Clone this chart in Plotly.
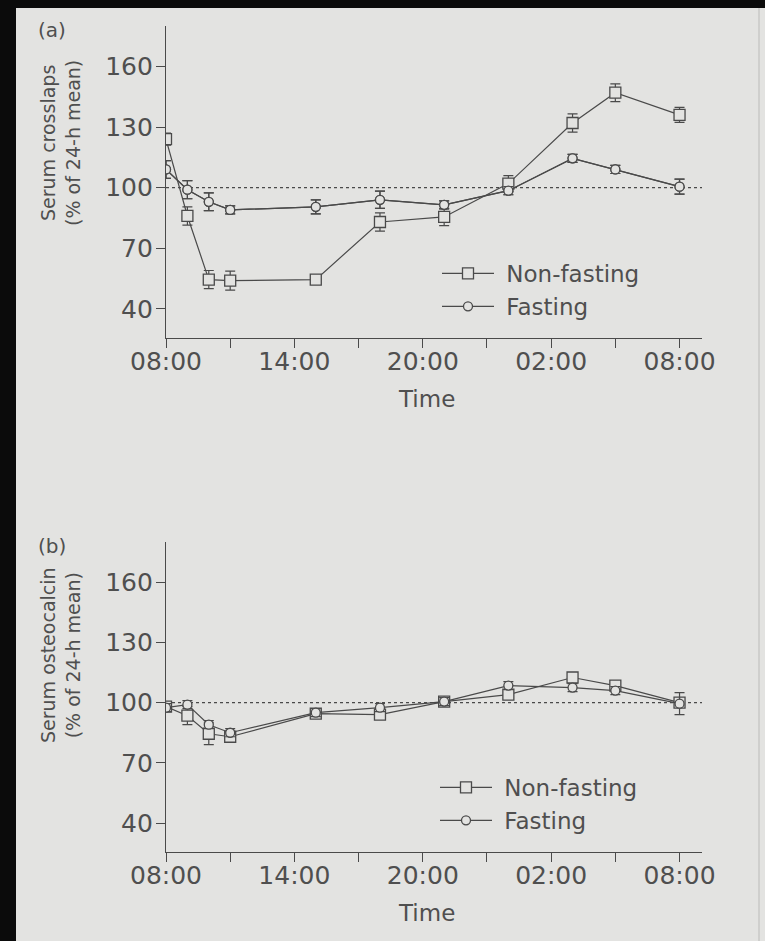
import plotly.graph_objects as go

W, H = 765, 941
BG = "#e3e3e1"
INK = "#4a4a4a"
TXT = "#4f4f4f"
FONT = "DejaVu Sans"

# ---- data ----
hours = [0, 1, 2, 3, 7, 10, 13, 16, 19, 21, 24]
tick_hours = [0, 3, 6, 9, 12, 15, 18, 21, 24]
tick_text = ["08:00", "", "14:00", "", "20:00", "", "02:00", "", "08:00"]
y_ticks = [40, 70, 100, 130, 160]

a_nonfast = [124, 86, 54.5, 54, 54.5, 83, 85.5, 102, 132, 147, 136]
a_nonfast_err = [3, 4.5, 4.5, 4.7, 2, 4.5, 4.3, 4, 4.5, 4.4, 3.7]
a_fast = [109, 99, 93, 89, 90.5, 94, 91.5, 98.5, 114.5, 109, 100.5]
a_fast_err = [4.4, 4.5, 4.4, 2, 3.5, 4.3, 2, 2, 2, 2, 3.7]

b_nonfast = [98, 93.5, 84.5, 83, 94.5, 94, 100.5, 104, 112.5, 108.5, 100]
b_nonfast_err = [2, 4.5, 5.4, 2.5, 2, 2, 2, 2, 2, 2, 2]
b_fast = [97.5, 99, 89, 85, 95, 97.5, 100.5, 108.5, 107.5, 106, 99.5]
b_fast_err = [2, 2, 2, 2, 2, 2, 2, 2, 2, 2, 5.5]

ref_level = 100
NB = "\u00a0"


def px_x(p):
    return p / W


def px_y(p):
    return 1 - p / H


def series(x, y, err, name, symbol, size, xa, ya, legend, showleg=True):
    return go.Scatter(
        x=x, y=y, name=NB + name, mode="lines+markers",
        xaxis=xa, yaxis=ya, legend=legend, showlegend=showleg,
        line=dict(color=INK, width=1.2),
        marker=dict(symbol=symbol, size=size, color=BG,
                    line=dict(color=INK, width=1.3)),
        error_y=dict(type="data", array=err, color=INK, thickness=1.2, width=5),
    )


fig = go.Figure()
fig.add_trace(series(hours, a_fast, a_fast_err, "Fasting", "circle", 9, "x", "y", "legend", False))
fig.add_trace(series(hours, a_nonfast, a_nonfast_err, "Non-fasting", "square", 11, "x", "y", "legend"))
fig.add_trace(series(hours, a_fast, a_fast_err, "Fasting", "circle", 9, "x", "y", "legend"))
fig.add_trace(series(hours, b_nonfast, b_nonfast_err, "Non-fasting", "square", 11, "x2", "y2", "legend2"))
fig.add_trace(series(hours, b_fast, b_fast_err, "Fasting", "circle", 9, "x2", "y2", "legend2"))

xcommon = dict(
    range=[0, 25.05], tickmode="array", tickvals=tick_hours, ticktext=tick_text,
    showline=True, linecolor=INK, linewidth=1.3, ticks="outside", ticklen=9,
    tickwidth=1.3, tickcolor=INK, showgrid=False, zeroline=False, automargin=False,
    ticklabelstandoff=-8,
    tickfont=dict(family=FONT, size=25, color=TXT), domain=[px_x(166), px_x(702)],
)
ycommon = dict(
    range=[25.6, 180], tickmode="array", tickvals=y_ticks,
    showline=True, linecolor=INK, linewidth=1.3, ticks="outside", ticklen=9,
    tickwidth=1.3, tickcolor=INK, showgrid=False, zeroline=False, automargin=False,
    ticklabelstandoff=-2,
    tickfont=dict(family=FONT, size=25, color=TXT),
)

legcommon = dict(
    xanchor="left", yanchor="top", bgcolor="rgba(0,0,0,0)",
    font=dict(family=FONT, size=23, color=TXT), itemwidth=52,
    tracegroupgap=0,
)

fig.update_layout(
    width=W, height=H, margin=dict(l=0, r=0, t=0, b=0, autoexpand=False),
    paper_bgcolor=BG, plot_bgcolor="rgba(0,0,0,0)",
    xaxis=dict(**xcommon, anchor="y"),
    yaxis=dict(**ycommon, anchor="x", domain=[px_y(338), px_y(26)]),
    xaxis2=dict(**xcommon, anchor="y2"),
    yaxis2=dict(**ycommon, anchor="x2", domain=[px_y(852), px_y(542)]),
    legend=dict(**legcommon, x=px_x(437), y=px_y(252)),
    legend2=dict(**legcommon, x=px_x(435), y=px_y(766)),
    showlegend=True,
)

# dotted reference lines at 100 %
for xr, yr in (("x", "y"), ("x2", "y2")):
    fig.add_shape(type="line", xref=xr, yref=yr, x0=0, x1=25.05,
                  y0=ref_level, y1=ref_level, layer="below",
                  line=dict(color=INK, width=1.3, dash="dot"))

# scan frame
fig.add_shape(type="rect", xref="paper", yref="paper", x0=0, x1=px_x(16), y0=0, y1=1,
              fillcolor="#0b0b0b", line=dict(width=0))
fig.add_shape(type="rect", xref="paper", yref="paper", x0=0, x1=1, y0=px_y(8), y1=1,
              fillcolor="#0b0b0b", line=dict(width=0))
fig.add_shape(type="line", xref="paper", yref="paper", x0=px_x(759), x1=px_x(759),
              y0=0, y1=px_y(8), line=dict(color="#c8c8c6", width=1.5))

CTR = dict(xref="paper", yref="paper", showarrow=False, xanchor="center", yanchor="middle")

for txt, yc in (("(a)", 30), ("(b)", 546)):
    fig.add_annotation(text=txt, x=px_x(52), y=px_y(yc), **CTR,
                       font=dict(family=FONT, size=20, color=TXT))

for txt, yc in (("Serum crosslaps<br>(% of 24-h mean)", 143),
                ("Serum osteocalcin<br>(% of 24-h mean)", 655)):
    fig.add_annotation(text=txt, x=px_x(60), y=px_y(yc), textangle=-90, **CTR,
                       font=dict(family=FONT, size=19, color=TXT))

for yc in (399, 913):
    fig.add_annotation(text="Time", x=px_x(426), y=px_y(yc), **CTR,
                       font=dict(family=FONT, size=23, color=TXT))

fig.write_html("out.html")
